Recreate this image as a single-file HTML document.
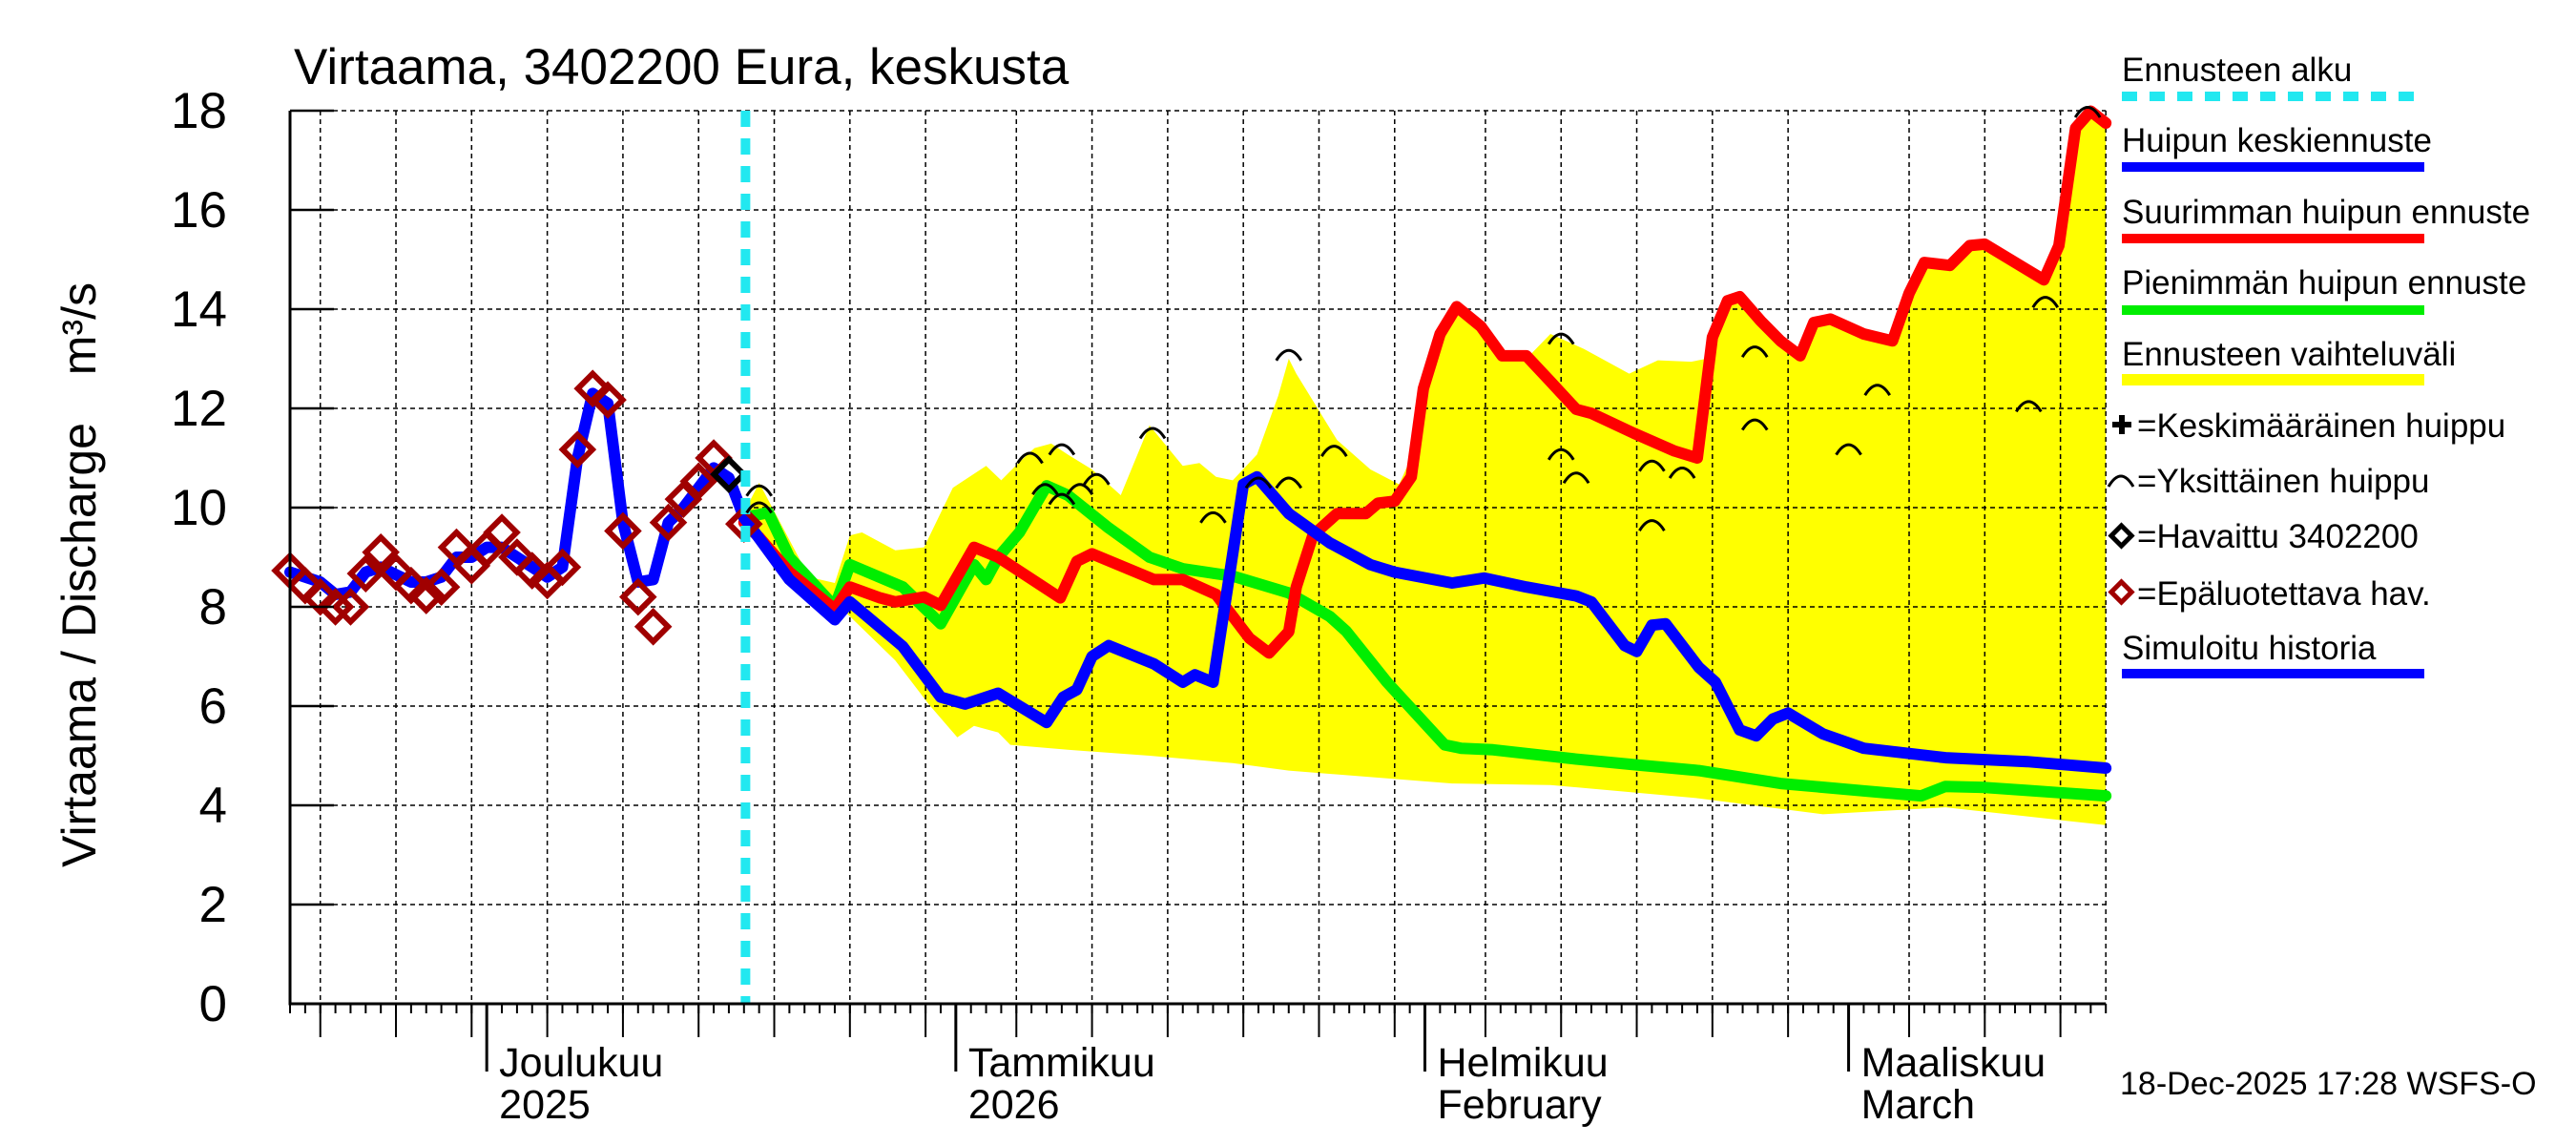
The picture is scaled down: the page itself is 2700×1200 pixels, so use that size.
<!DOCTYPE html>
<html><head><meta charset="utf-8">
<style>
html,body{margin:0;padding:0;background:#fff;}
svg{display:block;font-family:"Liberation Sans",Arial,sans-serif;}
</style></head>
<body>
<svg id="chart" width="2700" height="1200" viewBox="0 0 2700 1200" xmlns="http://www.w3.org/2000/svg">
<text x="308" y="88" font-size="53">Virtaama, 3402200 Eura, keskusta</text>
<text transform="translate(100,909) rotate(-90)" text-anchor="start" font-size="50">Virtaama / Discharge</text>
<text transform="translate(100,296) rotate(-90)" text-anchor="end" font-size="50">m³/s</text>
<g id="band"></g>
<g id="grid"></g>
<g id="series"></g>
<g id="axes"></g>
<g id="legend">
<text x="2224" y="85" font-size="35">Ennusteen alku</text>
<line x1="2224" y1="101" x2="2541" y2="101" stroke="#22e8f0" stroke-width="10" stroke-dasharray="16,13"/>
<text x="2224" y="159" font-size="35">Huipun keskiennuste</text>
<line x1="2224" y1="175" x2="2541" y2="175" stroke="#0000ff" stroke-width="10"/>
<text x="2224" y="234" font-size="35">Suurimman huipun ennuste</text>
<line x1="2224" y1="250" x2="2541" y2="250" stroke="#ff0000" stroke-width="10"/>
<text x="2224" y="308" font-size="35">Pienimmän huipun ennuste</text>
<line x1="2224" y1="325" x2="2541" y2="325" stroke="#00ee00" stroke-width="10"/>
<text x="2224" y="383" font-size="35">Ennusteen vaihteluväli</text>
<line x1="2224" y1="398" x2="2541" y2="398" stroke="#ffff00" stroke-width="12"/>
<path d="M2214 445 h20 M2224 435 v20" stroke="#000" stroke-width="6"/>
<text x="2240" y="458" font-size="35">=Keskimääräinen huippu</text>
<path d="M2210 510 Q2223 488 2236 510" fill="none" stroke="#000" stroke-width="3"/>
<text x="2240" y="516" font-size="35">=Yksittäinen huippu</text>
<rect x="2216" y="554" width="15" height="15" transform="rotate(45 2223.5 561.5)" fill="none" stroke="#000" stroke-width="5"/>
<text x="2240" y="574" font-size="35">=Havaittu 3402200</text>
<rect x="2216" y="613" width="15" height="15" transform="rotate(45 2223.5 620.5)" fill="none" stroke="#a00000" stroke-width="5"/>
<text x="2240" y="634" font-size="35">=Epäluotettava hav.</text>
<text x="2224" y="691" font-size="35">Simuloitu historia</text>
<line x1="2224" y1="706" x2="2541" y2="706" stroke="#0000ff" stroke-width="10"/>
</g>
<text x="2222" y="1147" font-size="34">18-Dec-2025 17:28 WSFS-O</text>
</svg>
<script>
// days since 18 Nov 2025
const histDays=[0,1,2,3,4,5,6,7,8,9,10,11,12,13,14,15,16,17,18,19,20,21,22,23,24,25,26,27,28,29,30];
const histValues=[8.7,8.6,8.5,8.25,8.3,8.7,8.8,8.65,8.5,8.5,8.6,9.0,9.0,9.2,9.2,9.0,8.8,8.6,8.8,11.0,12.3,12.1,9.7,8.5,8.55,9.7,10.0,10.4,10.8,10.6,9.8];
const obsValues=[8.73,8.43,8.2,8.0,8.0,8.67,9.1,8.7,8.43,8.23,8.4,9.2,8.83,9.17,9.5,9.0,8.73,8.53,8.8,11.17,12.4,12.17,9.53,8.2,7.6,9.7,10.17,10.53,11.0,10.67,9.67];
const obsReliable=[0,0,0,0,0,0,0,0,0,0,0,0,0,0,0,0,0,0,0,0,0,0,0,0,0,0,0,0,0,1,0];
const meanDays=[30,33,36,37,40.5,43,44.6,46.8,50,51.1,52,53,54.1,57.1,59,59.8,61,63,63.9,66,68.7,71.4,73,76.8,78.9,81.7,85,86,88.2,89,90,90.9,93.1,94.2,95.8,96.9,98,99,101.3,104,109.4,114.8,120];
const meanValues=[9.8,8.55,7.74,8.1,7.2,6.18,6.04,6.26,5.67,6.18,6.33,7.0,7.22,6.85,6.48,6.63,6.48,10.47,10.62,9.88,9.29,8.85,8.7,8.48,8.58,8.4,8.22,8.1,7.22,7.1,7.63,7.66,6.78,6.48,5.52,5.4,5.74,5.86,5.44,5.15,4.96,4.88,4.75];
const maxDays=[30,31,33,36,37,39,40,41.9,43,45.2,46.8,50.9,52,53,57.1,59,61.2,63.4,64.7,66,66.5,67.6,69.2,71.1,71.9,73,74.1,74.9,76,77.1,78.7,80.1,81.7,83.3,85,86,88.8,91.5,93,94,95,95.8,97.2,98.5,99.8,100.7,101.8,104,105.9,107,108,109.7,111,112,115.9,116.9,118,119,120];
const maxValues=[9.7,9.4,8.7,7.95,8.4,8.18,8.1,8.2,8.03,9.2,9.0,8.18,8.92,9.07,8.55,8.55,8.25,7.37,7.07,7.5,8.4,9.44,9.88,9.88,10.09,10.13,10.62,12.4,13.5,14.05,13.65,13.06,13.06,12.54,11.98,11.9,11.5,11.14,11.0,13.43,14.17,14.25,13.76,13.36,13.06,13.73,13.8,13.5,13.36,14.32,14.94,14.88,15.28,15.31,14.59,15.28,17.65,17.99,17.75];
const minDays=[30,31.6,33,36,37,40.5,43,45.2,46,46.8,48.2,50,51.4,54.1,56.8,59,62.3,66,68.7,69.8,72.5,76.3,77.4,79.5,85,88.8,93.1,98.5,104,107.8,109.4,112,114.8,120];
const minValues=[9.8,9.9,9.0,8.0,8.85,8.4,7.66,8.85,8.55,9.0,9.5,10.44,10.25,9.59,9.0,8.77,8.62,8.28,7.81,7.51,6.48,5.22,5.15,5.12,4.93,4.82,4.7,4.44,4.29,4.19,4.38,4.36,4.3,4.19];
const upperDays=[30,31,34.3,36,37,37.8,40,41.9,43.8,44.9,46,47,48.2,49.2,50.3,51.4,53,54.9,56.8,59,60.1,61.2,62.3,63.9,65.3,66,66.5,69.2,71.4,73.3,74.6,74.9,76,77.1,78.7,80.1,81.7,83.3,85.5,88.5,90.4,92.6,93.6,94,95,95.8,97.2,98.5,99.8,100.7,101.8,104,105.9,107,108,109.7,111,112,115.9,116.9,118,119,120];
const upperValues=[9.9,10.5,8.6,8.48,9.44,9.5,9.14,9.2,10.4,10.62,10.84,10.55,10.92,11.2,11.29,11.07,10.77,10.25,11.66,10.84,10.9,10.62,10.55,11.07,12.25,13.0,12.7,11.36,10.77,10.47,11.36,12.4,13.5,14.05,13.65,13.06,13.0,13.5,13.2,12.7,12.97,12.94,13.0,13.43,14.17,14.25,13.76,13.36,13.06,13.73,13.8,13.5,13.36,14.32,14.94,14.88,15.28,15.31,14.59,15.28,17.65,17.99,17.75];
const lowerDays=[30,35,40,42.2,44.1,45.2,46.8,47.6,51.4,56.8,62.3,66,76.8,83.3,93.1,101.3,109.4,120];
const lowerValues=[9.6,8.4,6.92,6.04,5.37,5.6,5.47,5.22,5.12,5.0,4.85,4.7,4.44,4.41,4.14,3.82,3.96,3.6];
const peakDays=[31,31,48.9,51,49.9,51,52.2,53.3,57,61,64,66,66,69,84,84,85,90,92,90,96.8,96.8,103,104.9,114.9,116,118.8];
const peakValues=[10.37,10.03,11.03,11.2,10.4,10.2,10.4,10.6,11.53,9.83,10.53,10.53,13.1,11.17,13.43,11.1,10.63,10.87,10.73,9.67,13.17,11.7,11.2,12.4,12.07,14.17,18.0];
const yTicks=[0,2,4,6,8,10,12,14,16,18];
const gridDays=[2,7,12,17,22,27,32,37,42,48,53,58,63,68,73,79,84,89,94,99,107,112,117];
const monthDays=[13,44,75,103];
const monthLabels1=["Joulukuu","Tammikuu","Helmikuu","Maaliskuu"];
const monthLabels2=["2025","2026","February","March"];
const forecastStartDay=30.1;

const NS="http://www.w3.org/2000/svg";
const X0=304,PXD=15.86,Y0=1052,PXV=52,XEND=X0+120*PXD,YTOP=Y0-18*PXV;
function xs(d){return X0+d*PXD;}
function ys(v){return Y0-v*PXV;}
function mk(parent,tag,attrs){const e=document.createElementNS(NS,tag);for(const k in attrs)e.setAttribute(k,attrs[k]);parent.appendChild(e);return e;}
function pts(ds,vs){return ds.map((d,i)=>xs(d).toFixed(1)+","+ys(vs[i]).toFixed(1)).join(" ");}
const band=document.getElementById('band'),grid=document.getElementById('grid'),ser=document.getElementById('series'),axes=document.getElementById('axes');

let bp=pts(upperDays,upperValues)+" "+lowerDays.slice().reverse().map((d,i)=>{const v=lowerValues[lowerValues.length-1-i];return xs(d).toFixed(1)+","+ys(v).toFixed(1);}).join(" ");
let poly=mk(band,'polygon',{points:bp,fill:'#ffff00'});



yTicks.forEach(v=>{
  let l=mk(grid,'line',{x1:X0,y1:ys(v),x2:XEND,y2:ys(v),stroke:'#000','stroke-width':1.5,'stroke-dasharray':'5,4'});
  
  
  let t=mk(axes,'line',{x1:X0,y1:ys(v),x2:X0+46,y2:ys(v),stroke:'#000','stroke-width':2.5});
  
  
  let tx=mk(axes,'text',{x:238,y:ys(v)+18,'text-anchor':'end','font-size':53});
  tx.textContent=v;
  
  
});
gridDays.concat([120]).forEach(d=>{
  let l=mk(grid,'line',{x1:xs(d),y1:YTOP,x2:xs(d),y2:Y0,stroke:'#000','stroke-width':1.5,'stroke-dasharray':'5,4'});
  
  
});
gridDays.forEach(d=>{
  let t=mk(axes,'line',{x1:xs(d),y1:Y0,x2:xs(d),y2:1087,stroke:'#000','stroke-width':2});
  
  
});
for(let d=0;d<=120;d++){
  let t=mk(axes,'line',{x1:xs(d),y1:Y0,x2:xs(d),y2:1062,stroke:'#000','stroke-width':2});
  
  
}
monthDays.forEach((d,i)=>{
  let t=mk(axes,'line',{x1:xs(d),y1:Y0,x2:xs(d),y2:1123,stroke:'#000','stroke-width':3});
  
  
  let a=mk(axes,'text',{x:xs(d)+13,y:1128,'font-size':43});a.textContent=monthLabels1[i];
  
  
  let b=mk(axes,'text',{x:xs(d)+13,y:1172,'font-size':43});b.textContent=monthLabels2[i];
  
  
});
let ax=mk(axes,'path',{d:`M${X0} ${YTOP} V${Y0} H${XEND}`,fill:'none',stroke:'#000','stroke-width':3});



function line(ds,vs,col,name){
  let p=mk(ser,'polyline',{points:pts(ds,vs),fill:'none',stroke:col,'stroke-width':12,'stroke-linejoin':'round','stroke-linecap':'round'});
  
  
}
line(minDays,minValues,'#00ee00','min-peak-forecast-line');
line(maxDays,maxValues,'#ff0000','max-peak-forecast-line');
line(histDays,histValues,'#0000ff','simulated-history-line');
line(meanDays,meanValues,'#0000ff','mean-peak-forecast-line');

histDays.forEach((d,i)=>{
  const cx=xs(d),cy=ys(obsValues[i]);
  let r=mk(ser,'rect',{x:cx-11,y:cy-11,width:22,height:22,transform:`rotate(45 ${cx} ${cy})`,fill:'none',stroke:obsReliable[i]?'#000':'#a00000','stroke-width':6});
  
  
});
let cy=mk(ser,'line',{x1:xs(forecastStartDay),y1:YTOP,x2:xs(forecastStartDay),y2:Y0,stroke:'#22e8f0','stroke-width':10,'stroke-dasharray':'17,12'});


peakDays.forEach((d,i)=>{
  const px=xs(d),py=ys(peakValues[i]);
  let a=mk(ser,'path',{d:`M${px-13} ${py+7} Q${px} ${py-14} ${px+13} ${py+7}`,fill:'none',stroke:'#000','stroke-width':3});
  
  
});
</script>
</body></html>
